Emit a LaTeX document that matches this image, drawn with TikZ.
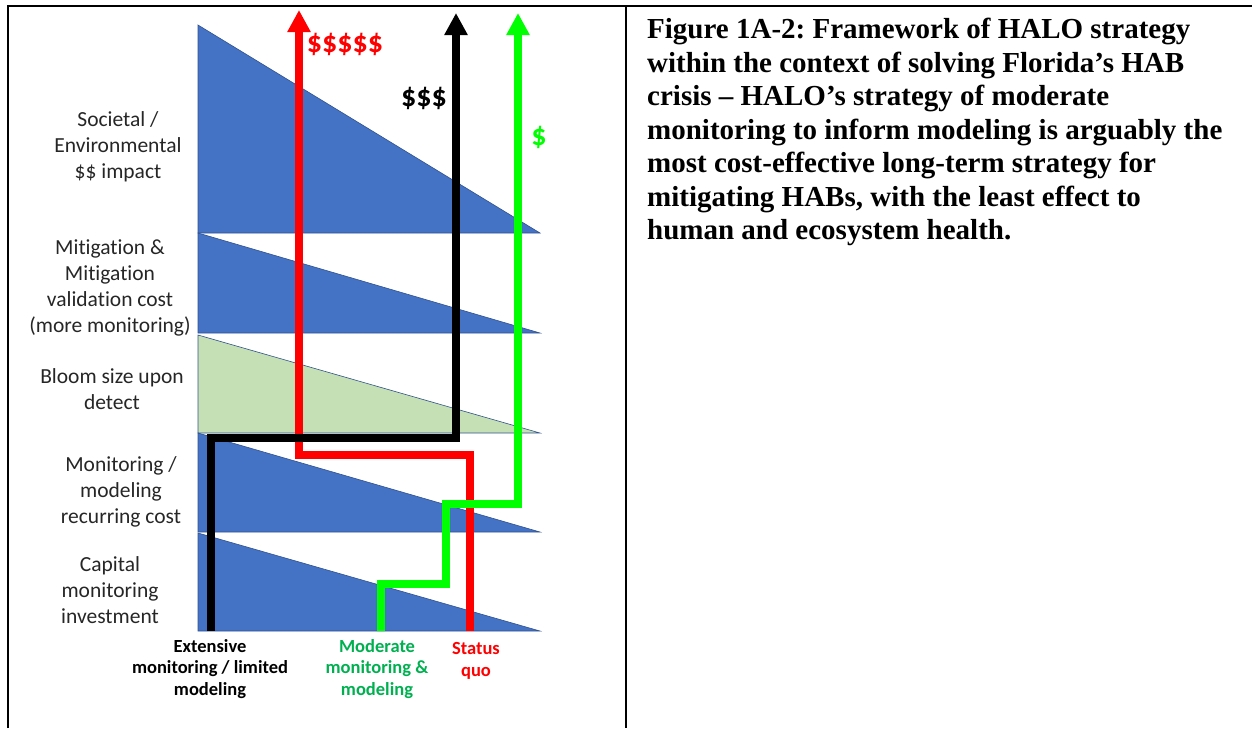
\documentclass[tikz,border=0pt]{standalone}
\usepackage{fontspec}
\setmainfont{Carlito}[Ligatures=NoCommon]
\newfontfamily\capfont{Liberation Serif}
\usetikzlibrary{arrows.meta}
\definecolor{wblue}{HTML}{4472C4}
\definecolor{wedge}{HTML}{2F528F}
\definecolor{wgreen}{HTML}{C5E0B4}
\definecolor{lime}{HTML}{00FF00}
\definecolor{dgreen}{HTML}{00B050}
\definecolor{ink}{HTML}{262626}
\frenchspacing
\begin{document}
\begin{tikzpicture}[x=1pt,y=-1pt,
  cost/.style={fill=wblue, draw=wedge, line width=0.6pt},
  side/.style={align=center, text=ink, inner sep=0pt, font=\fontsize{21.5}{26}\selectfont},
  foot/.style={align=center, inner sep=0pt, font=\fontsize{18.5}{21.5}\selectfont\bfseries},
  cash/.style={inner sep=0pt, font=\fontsize{30}{30}\selectfont\bfseries},
  route/.style={line width=7.5pt, -{Triangle[width=22pt,length=22pt]}}]
\useasboundingbox (0,0) rectangle (1252,728);
\draw[line width=2pt] (8,728) -- (8,6) -- (1252,6);
\draw[line width=2pt] (626,6) -- (626,728);

\draw[cost] (198,25) -- (540,233) -- (198,233) -- cycle;
\draw[cost] (198,233) -- (540,333) -- (198,333) -- cycle;
\draw[cost, fill=wgreen] (198,335) -- (540,433) -- (198,433) -- cycle;
\draw[cost] (198,433) -- (540,532) -- (198,532) -- cycle;
\draw[cost] (198,533) -- (540,631) -- (198,631) -- cycle;

\node[side] (soc) at (118,147) {Societal /\\Environmental\\\$\$ impact};
\node[side] (mit) at (110,288) {Mitigation \&\\Mitigation\\validation cost\\(more monitoring)};
\node[side] (blm) at (112,389) {Bloom size upon\\detect};
\node[side] (rec) at (121,492) {Monitoring /\\modeling\\recurring cost};
\node[side] (inv) at (110,590) {Capital\\monitoring\\investment};

\coordinate (k0) at (211,631);
\coordinate (k1) at (456,438);
\coordinate (k2) at (456,13);
\coordinate (r0) at (470,631);
\coordinate (r1) at (299,455);
\coordinate (r2) at (299,10);
\coordinate (g0) at (381,631);
\coordinate (g1) at (446,584);
\coordinate (g2) at (518,504);
\coordinate (g3) at (518,13);
\draw[route, red] (r0) |- (r1) -- (r2);
\draw[route, black] (k0) |- (k1) -- (k2);
\draw[route, lime] (g0) |- (g1) |- (g2) -- (g3);

\node[cash, text=red] (c5) at (345,44) {\$\$\$\$\$};
\node[cash, text=black] (c3) at (424,98) {\$\$\$};
\node[cash, text=lime] (c1) at (539,137) {\$};

\node[foot] (ext) at (210,669) {Extensive\\monitoring / limited\\modeling};
\node[foot, text=dgreen] (mod) at (377,669) {Moderate\\monitoring \&\\modeling};
\node[foot, text=red] (sq) at (476,661) {Status\\quo};

\node[anchor=north west, align=left, inner sep=0pt, font=\capfont\bfseries\fontsize{29}{33.5}\selectfont] (cap) at (647,18)
  {Figure 1A-2: Framework of HALO strategy\\within the context of solving Florida’s HAB\\crisis – HALO’s strategy of moderate\\monitoring to inform modeling is arguably the\\most cost-effective long-term strategy for\\mitigating HABs, with the least effect to\\human and ecosystem health.};
\end{tikzpicture}
\end{document}
